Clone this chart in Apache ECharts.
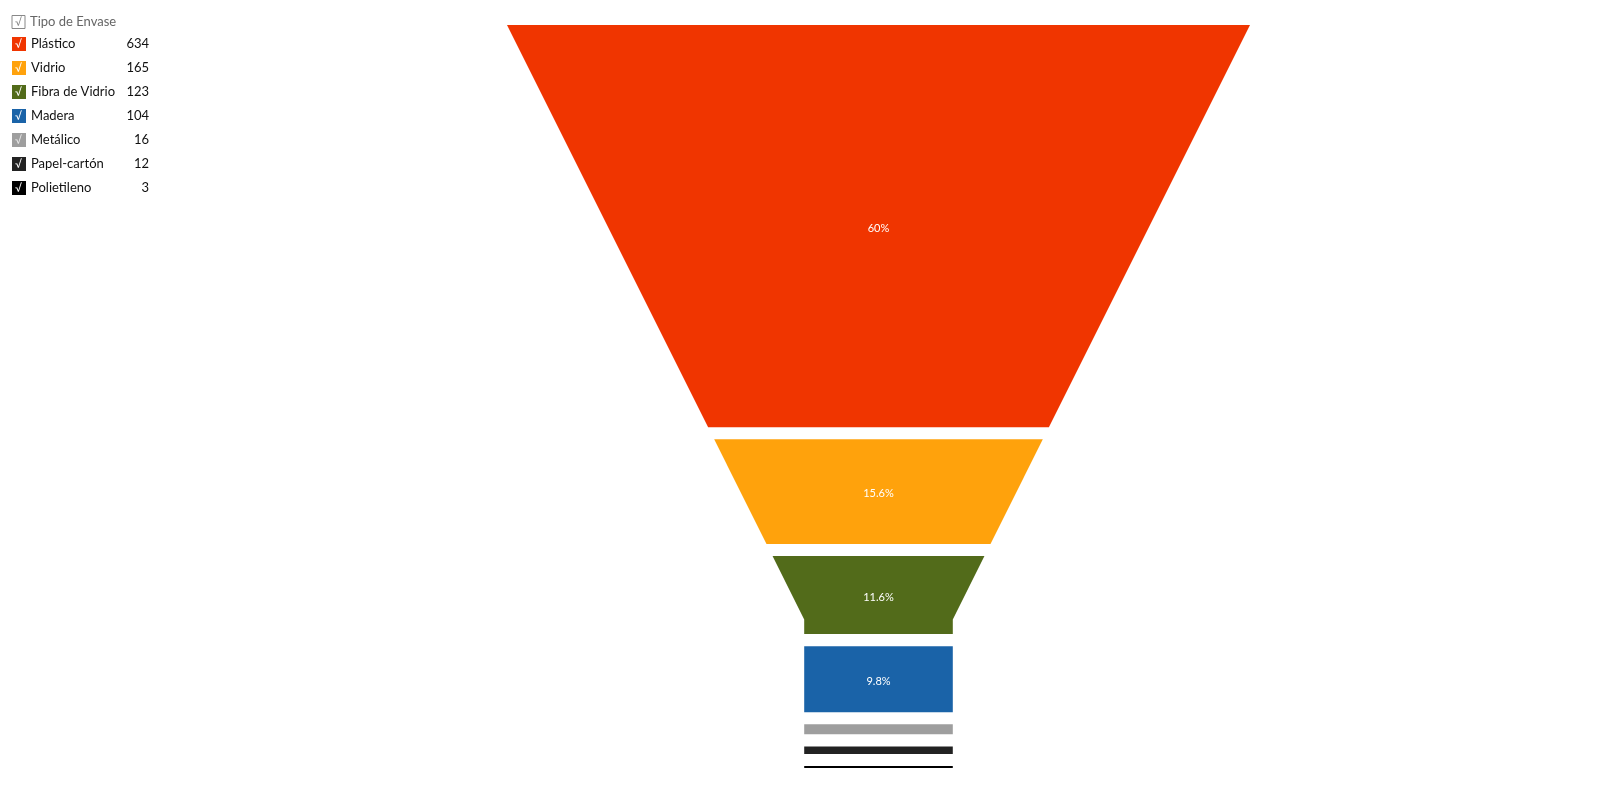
<!DOCTYPE html>
<html>
<head>
<meta charset="utf-8">
<script src="https://cdn.jsdelivr.net/npm/echarts@6/dist/echarts.min.js"></script>
<style>
html,body{margin:0;padding:0;background:#fff;}
#chart{width:1600px;height:785px;}
</style>
</head>
<body>
<div id="chart"></div>
<script>
// ---- data ----
const legendTitle = 'Tipo de Envase';
const categories = ['Plástico', 'Vidrio', 'Fibra de Vidrio', 'Madera', 'Metálico', 'Papel-cartón', 'Polietileno'];
const values = [634, 165, 123, 104, 16, 12, 3];
const colors = ['#F03500', '#FFA20C', '#526B1A', '#1A63A8', '#9E9E9E', '#222222', '#000000'];

// ---- layout constants ----
const GAP = 19;          // gap between slices, in value units
const NECK_HALF = 0.2;   // neck half width relative to top half width
const NECK_POS = 0.8;    // fraction of funnel height where neck starts
const FONT = 'Lato, "Noto Sans", sans-serif';

const total = values.reduce((a, b) => a + b, 0);
const totalH = total + GAP * (values.length - 1);
const neckY = totalH * NECK_POS;
const starts = [];
let acc = 0;
values.forEach((v, i) => { starts.push(acc); acc += v + GAP; });

function halfW(y) {
  return y < neckY ? 1 - (1 - NECK_HALF) * y / neckY : NECK_HALF;
}
function pct(v) {
  return Math.round(v / total * 1000) / 10 + '%';
}

const rich = {};
categories.forEach((c, i) => {
  rich['b' + i] = {
    backgroundColor: colors[i], width: 11, height: 14, lineHeight: 14,
    padding: [0, 0, 0, 3],
    align: 'left', verticalAlign: 'middle', color: i === 4 ? '#e8e8e8' : '#fff',
    fontSize: 11, fontFamily: FONT
  };
});
rich.n = { width: 88, align: 'left', lineHeight: 14, padding: [0, 0, 0, 5], fontSize: 13, color: '#111', fontFamily: FONT };
rich.v = { width: 30, align: 'right', lineHeight: 14, fontSize: 13, color: '#111', fontFamily: FONT };

const series = categories.map((name, i) => ({
  type: 'custom',
  name: name,
  coordinateSystem: 'cartesian2d',
  clip: false,
  itemStyle: { color: colors[i] },
  encode: { x: 0, y: [1, 2] },
  data: [[0, starts[i], starts[i] + values[i]]],
  renderItem: function (params, api) {
    const y0 = api.value(1), y1 = api.value(2);
    const left = [[-halfW(y0), y0]];
    const right = [[halfW(y0), y0]];
    if (neckY > y0 && neckY < y1) {
      left.push([-NECK_HALF, neckY]);
      right.push([NECK_HALF, neckY]);
    }
    left.push([-halfW(y1), y1]);
    right.push([halfW(y1), y1]);
    const pts = left.concat(right.reverse()).map(p => api.coord(p));
    const v = values[i];
    const showLabel = v / total >= 0.05;
    return {
      type: 'polygon',
      shape: { points: pts },
      style: { fill: colors[i] },
      textContent: showLabel ? {
        style: { text: pct(v), fill: '#fff', fontSize: 11, fontFamily: FONT }
      } : undefined,
      textConfig: showLabel ? { position: 'inside', offset: [0, 2] } : undefined
    };
  }
}));

const chart = echarts.init(document.getElementById('chart'));
chart.setOption({
  animation: false,
  backgroundColor: '#fff',
  title: {
    text: '{box|√}{t|' + legendTitle + '}',
    left: 12, top: 15, padding: 0,
    textStyle: {
      fontWeight: 'normal',
      rich: {
        box: { borderColor: '#888', borderWidth: 1, width: 10, height: 13, lineHeight: 14,
               padding: [0, 0, 0, 3],
               align: 'left', verticalAlign: 'middle', color: '#888', fontSize: 11, fontFamily: FONT },
        t: { align: 'left', padding: [0, 0, 0, 5], color: '#666', fontSize: 13, fontWeight: 'normal', lineHeight: 14, fontFamily: FONT }
      }
    }
  },
  legend: {
    orient: 'vertical',
    left: 7, top: 37, padding: 0,
    icon: 'none',
    itemWidth: 0, itemHeight: 14, itemGap: 10,
    data: categories,
    formatter: function (name) {
      const i = categories.indexOf(name);
      return '{b' + i + '|√}{n|' + name + '}{v|' + values[i] + '}';
    },
    textStyle: { rich: rich }
  },
  grid: { left: 507, right: 350, top: 25, bottom: 17 },
  xAxis: { type: 'value', min: -1, max: 1, show: false },
  yAxis: { type: 'value', min: 0, max: totalH, inverse: true, show: false },
  series: series
});
</script>
</body>
</html>
